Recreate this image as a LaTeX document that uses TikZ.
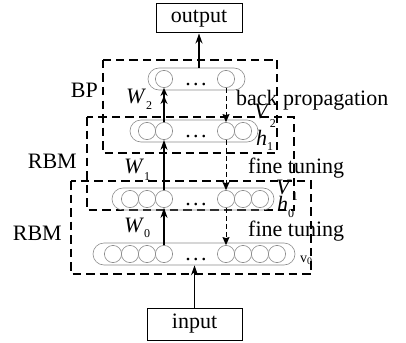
\documentclass[tikz,border=0pt]{standalone}
\usepackage{fontspec}
\setmainfont{Liberation Serif}
\usetikzlibrary{arrows.meta,shapes.misc}
\newcommand\sublab[3][-7pt]{\textit{#2}\raisebox{#1}{\fontsize{12}{12}\selectfont #3}}
\newcommand\mydots{.\hspace{2.5pt}.\hspace{2.5pt}.}
\begin{document}
\begin{tikzpicture}[x=1pt,y=-1pt,
  fs/.style={font=\fontsize{22}{26}\selectfont},
  lbl/.style={fs, inner sep=0pt},
  dbox/.style={line width=1.6pt, dash pattern=on 8.5pt off 5pt},
  layer/.style={draw=black!45, line width=0.6pt, rounded rectangle, minimum height=22pt, inner sep=0pt},
  neuron/.style={draw=black!45, line width=0.6pt, circle, minimum size=17.2pt, inner sep=0pt},
  sarrow/.style={line width=1.5pt, -{Stealth[length=10pt,width=7pt]}},
  sarrowdbl/.style={line width=1.5pt, -{Stealth[length=8pt,width=7pt]Stealth[length=8pt,width=7pt]}},
  darrow/.style={line width=0.9pt, dash pattern=on 5pt off 3pt, -{Stealth[length=8pt,width=7pt,inset=1pt]}},
  iobox/.style={draw, line width=1pt, fs, inner sep=0pt}]
\useasboundingbox (0,0) rectangle (406,342);

% dashed boxes
\draw[dbox] (103,60) rectangle (277,153);
\draw[dbox] (87,117) rectangle (294,210);
\draw[dbox] (71,181) rectangle (311,274);

% layers
\node[layer, minimum width=97pt]  (L3) at (196.5,79) {};
\node[layer, minimum width=128pt] (L2) at (194,131) {};
\node[layer, minimum width=162pt] (L1) at (193,199) {};
\node[layer, minimum width=202pt] (L0) at (194,254) {};

% neurons top
\node[neuron] (t1) at (164,79) {};
\node[neuron] (t2) at (226,79) {};
% h1
\node[neuron] (a1) at (147,131) {};
\node[neuron] (a2) at (164,131) {};
\node[neuron] (a3) at (226,131) {};
\node[neuron] (a4) at (243,131) {};
% h0
\node[neuron] (b1) at (130,199) {};
\node[neuron] (b2) at (147,199) {};
\node[neuron] (b3) at (164,199) {};
\node[neuron] (b4) at (226,199) {};
\node[neuron] (b5) at (243,199) {};
\node[neuron] (b6) at (260,199) {};
% v0
\node[neuron] (c1) at (113,254) {};
\node[neuron] (c2) at (130,254) {};
\node[neuron] (c3) at (147,254) {};
\node[neuron] (c4) at (164,254) {};
\node[neuron] (c5) at (226,254) {};
\node[neuron] (c6) at (243,254) {};
\node[neuron] (c7) at (260,254) {};
\node[neuron] (c8) at (277,254) {};

% dots
\node[lbl, anchor=base] (d3) at (196,85) {\mydots};
\node[lbl, anchor=base] (d2) at (196,137) {\mydots};
\node[lbl, anchor=base] (d1) at (196,205) {\mydots};
\node[lbl, anchor=base] (d0) at (196,260) {\mydots};

% io boxes
\node[iobox, minimum width=86pt, minimum height=29pt] (out) at (199,18.5) {output};
\node[iobox, minimum width=95pt, minimum height=32pt] (in) at (194.5,324) {input};

% arrows
\draw[sarrow] (L3.north -| out.south) -- (out.south);
\draw[sarrow] (in.north) -- (in.north |- L0.south);
\draw[sarrowdbl] (a2.north) -- (t1.south);
\draw[sarrow] (b3.north) -- (a2.south);
\draw[sarrow] (c4.north) -- (b3.south);
\draw[darrow] (t2.south) -- (a3.north);
\draw[darrow] (a3.south) -- (b4.north);
\draw[darrow] (b4.south) -- (c5.north);

% labels
\node[lbl, anchor=base east] (bp) at (98,97) {BP};
\node[lbl, anchor=base east] (rbm1) at (77,168) {RBM};
\node[lbl, anchor=base east] (rbm0) at (62,240) {RBM};
\node[lbl, anchor=base west] (w2) at (126,103) {\sublab[-6pt]{W}{2}};
\node[lbl, anchor=base west] (w1) at (124,173) {\sublab{W}{1}};
\node[lbl, anchor=base west] (w0) at (124,232) {\sublab[-5pt]{W}{0}};
\node[lbl, anchor=base west] (v2) at (254,118) {\sublab[-9pt]{V}{2}};
\node[lbl, anchor=base west] (h1) at (256,145) {\sublab[-5pt]{h}{1}};
\node[lbl, anchor=base west] (v1) at (276,194) {\sublab[-6pt]{V}{1}};
\node[lbl, anchor=base west] (h0) at (277,211) {\sublab[-6pt]{h}{0}};
\node[lbl, font=\fontsize{14}{16}\selectfont, anchor=base west] (vz) at (300,262) {v\raisebox{-2pt}{\fontsize{10}{10}\selectfont 0}};
\node[lbl, anchor=base west] (bprop) at (236,105) {back propagation};
\node[lbl, anchor=base west] (ft1) at (248,173) {fine tuning};
\node[lbl, anchor=base west] (ft0) at (248,236) {fine tuning};
\end{tikzpicture}
\end{document}
